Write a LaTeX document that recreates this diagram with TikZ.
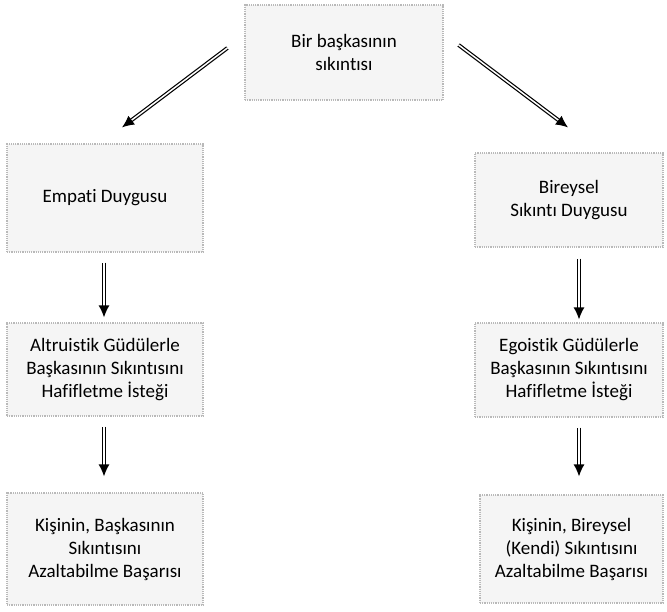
\documentclass[tikz,border=0pt]{standalone}
\usepackage{fontspec}
\setmainfont{Carlito}[Ligatures=NoCommon]
\usetikzlibrary{arrows.meta}

\begin{document}
\begin{tikzpicture}[x=1pt,y=-1pt,
    box/.style={draw=gray!55,densely dotted,line width=1.2pt,fill=gray!8,
        align=center,inner sep=2pt,font=\fontsize{19}{23}\selectfont},
    dblarrow/.style={double=white,double distance=1.5pt,line width=1.2pt,
        -{Latex[length=12pt,width=11pt]}}]
    % Page frame
    \useasboundingbox (0,0) rectangle (667,611);

    % Top box
    \node[box,minimum width=198pt,minimum height=95pt] (start) at (344,52.5)
        {Bir başkasının\\sıkıntısı};

    % Left column
    \node[box,minimum width=196pt,minimum height=108pt] (empati) at (105,198)
        {Empati Duygusu};
    \node[box,minimum width=196pt,minimum height=93pt] (altru) at (105,369.5)
        {Altruistik Güdülerle\\Başkasının Sıkıntısını\\Hafifletme İsteği};
    \node[box,minimum width=196pt,minimum height=112pt] (basariL) at (105,549)
        {Kişinin, Başkasının\\Sıkıntısını\\Azaltabilme Başarısı};

    % Right column
    \node[box,minimum width=188pt,minimum height=94pt] (bireysel) at (569,200)
        {Bireysel\\Sıkıntı Duygusu};
    \node[box,minimum width=188pt,minimum height=94pt] (ego) at (569,370)
        {Egoistik Güdülerle\\Başkasının Sıkıntısını\\Hafifletme İsteği};
    \node[box,minimum width=183pt,minimum height=108pt] (basariR) at (571.5,549)
        {Kişinin, Bireysel\\(Kendi) Sıkıntısını\\Azaltabilme Başarısı};

    % Diagonal arrows
    \draw[dblarrow] ([xshift=-17pt,yshift=4.5pt]start.west)
        -- ([xshift=17pt,yshift=16pt]empati.north);
    \draw[dblarrow] ([xshift=15pt,yshift=7.5pt]start.east)
        -- ([xshift=-1pt,yshift=25pt]bireysel.north);

    % Vertical arrows
    \draw[dblarrow,shorten <=10pt,shorten >=5pt] ([xshift=-1pt]empati.south)
        -- ([xshift=-1pt]altru.north);
    \draw[dblarrow,shorten <=10pt,shorten >=16pt] ([xshift=-1pt]altru.south)
        -- ([xshift=-1pt]basariL.north);
    \draw[dblarrow,shorten <=11pt,shorten >=3pt] ([xshift=10pt]bireysel.south)
        -- ([xshift=10pt]ego.north);
    \draw[dblarrow,shorten <=10pt,shorten >=18pt] ([xshift=10pt]ego.south)
        -- ([xshift=7.5pt]basariR.north);
\end{tikzpicture}
\end{document}
